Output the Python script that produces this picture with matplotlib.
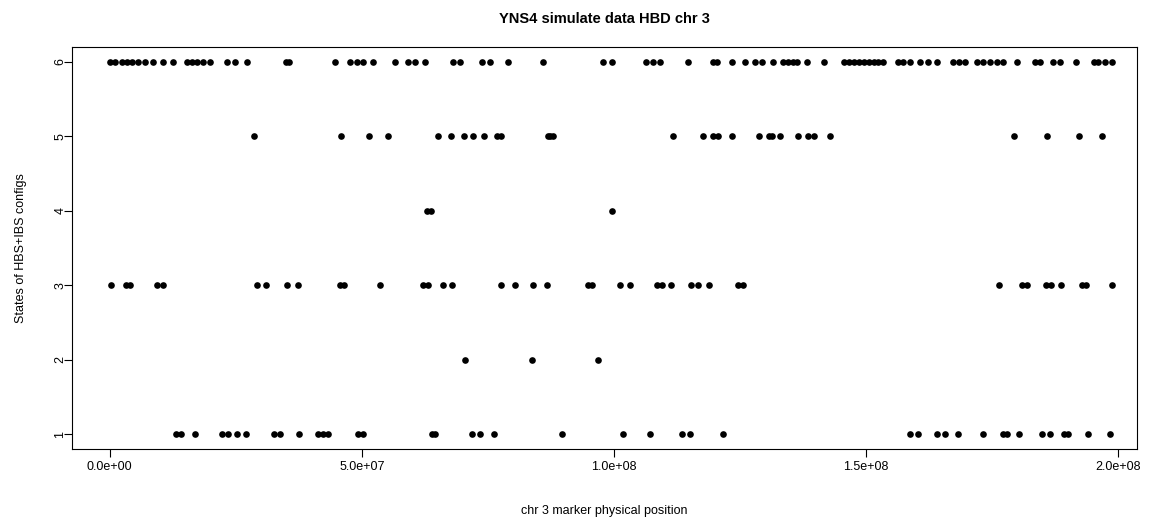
import matplotlib
matplotlib.use("Agg")
import matplotlib.pyplot as plt
import numpy as np

plt.rcParams['font.family'] = ['Liberation Sans', 'DejaVu Sans']

# marker positions (Mb) for each HBS+IBS configuration state
state6_mb = [0.06, 1.05, 2.44, 3.43, 4.42, 5.6, 7.0, 8.6, 10.6, 12.6, 15.3, 16.3, 17.3,
             18.5, 19.9, 23.3, 24.9, 27.2, 35.0, 35.6, 44.7, 47.7, 49.1, 50.3, 52.2,
             56.6, 59.2, 60.6, 62.6, 68.1, 69.5, 73.9, 75.5, 79.0, 86.0, 97.9, 99.7,
             106.3, 107.7, 109.2, 114.8, 119.7, 120.5, 123.5, 126.0, 128.0, 129.4,
             131.6, 133.6, 134.6, 135.6, 136.4, 138.4, 141.7, 145.6, 146.6, 147.6,
             148.6, 149.6, 150.6, 151.6, 152.5, 153.5, 156.3, 157.4, 158.8, 160.8,
             162.4, 164.2, 167.2, 168.4, 169.7, 172.1, 173.3, 174.7, 176.1, 177.3,
             180.0, 183.6, 184.6, 187.2, 188.6, 191.6, 195.2, 196.1, 197.5, 198.9]
state5_mb = [28.7, 45.8, 51.5, 55.2, 65.1, 67.6, 70.3, 72.1, 74.3, 76.8, 77.6, 86.9,
             87.4, 88.0, 111.8, 117.6, 119.6, 120.7, 123.5, 128.8, 130.8, 131.4,
             133.0, 136.6, 138.6, 139.8, 142.8, 179.3, 185.9, 192.3, 196.9]
state4_mb = [63.0, 63.8, 99.7]
state3_mb = [0.2, 3.2, 4.0, 9.3, 10.6, 29.3, 31.0, 35.1, 37.3, 45.7, 46.5, 53.6, 62.2,
             63.2, 66.2, 67.9, 77.6, 80.3, 84.0, 86.8, 94.9, 95.7, 101.2, 103.3,
             108.6, 109.6, 111.3, 115.4, 116.7, 118.8, 124.6, 125.6, 176.5, 181.0,
             182.0, 185.8, 186.8, 188.8, 192.9, 193.7, 198.8]
state2_mb = [70.5, 83.8, 96.9]
state1_mb = [13.2, 14.1, 16.9, 22.2, 23.5, 25.2, 27.0, 32.5, 33.7, 37.6, 41.3, 42.3,
             43.2, 49.3, 50.3, 63.9, 64.5, 71.8, 73.5, 76.3, 89.7, 101.9, 107.1,
             113.5, 115.1, 121.7, 158.8, 160.4, 164.1, 165.7, 168.3, 173.2, 177.2,
             178.0, 180.4, 185.0, 186.6, 189.4, 190.2, 194.0, 198.5]

states = [1, 2, 3, 4, 5, 6]
x_ticks = [0, 5e7, 1e8, 1.5e8, 2e8]
x_ticklabels = ["0.0e+00", "5.0e+07", "1.0e+08", "1.5e+08", "2.0e+08"]

series = {1: state1_mb, 2: state2_mb, 3: state3_mb,
          4: state4_mb, 5: state5_mb, 6: state6_mb}
pos = np.concatenate([np.array(series[s]) * 1e6 for s in states])
st = np.concatenate([np.full(len(series[s]), s) for s in states])

W, H = 1150, 523
fig = plt.figure(figsize=(W / 100, H / 100), dpi=100)
left, right, top, bottom = 72, 1137, 47, 449
ax = fig.add_axes([left / W, 1 - bottom / H, (right - left) / W, (bottom - top) / H])

ax.plot(pos, st, linestyle="none", marker="o", markersize=4.8,
        color="black", markeredgewidth=0)

ax.set_xlim(-7.5e6, 2.038e8)
ax.set_ylim(1 - 0.2, 6 + 0.2)

ax.set_xticks(x_ticks)
ax.set_xticklabels(x_ticklabels)
ax.set_yticks(states)
ax.set_yticklabels([str(s) for s in states], rotation=90, va="center")
ax.tick_params(direction="out", length=6, width=0.8, labelsize=9)
ax.tick_params(axis="x", pad=3)
ax.tick_params(axis="y", pad=-2)

for sp in ax.spines.values():
    sp.set_linewidth(0.8)

ax.set_title("YNS4 simulate data HBD chr 3", fontsize=10.5, fontweight="bold", pad=17)
ax.set_xlabel("chr 3 marker physical position", fontsize=9, labelpad=23)
ax.set_ylabel("States of HBS+IBS configs", fontsize=9, labelpad=20)

fig.savefig("out.png", dpi=100)
